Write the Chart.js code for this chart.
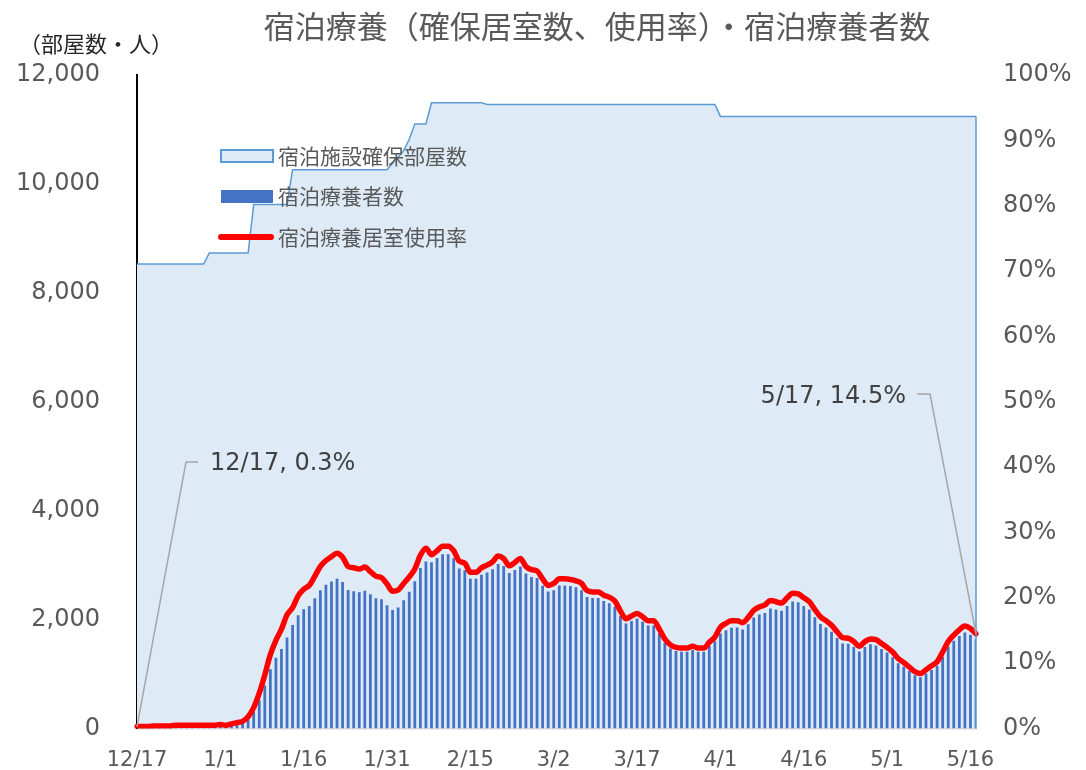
<!DOCTYPE html>
<html lang="ja">
<head>
<meta charset="utf-8">
<title>宿泊療養</title>
<script src="https://cdn.jsdelivr.net/npm/chart.js@4.4.1/dist/chart.umd.min.js"></script>
<style>
body{margin:0;background:#fff;}
#wrap{position:relative;width:1086px;height:770px;}
</style>
</head>
<body>
<div id="wrap"><canvas id="myChart" width="1086" height="770"></canvas></div>
<script>
// 12/17 ～ 5/17 の日付
var meses = [[12,17,31],[1,1,31],[2,1,28],[3,1,31],[4,1,30],[5,1,17]];
var fechas = [];
for (let m = 0; m < meses.length; m++) {
    for (let d = meses[m][1]; d <= meses[m][2]; d++) {
        fechas.push(meses[m][0] + "/" + d);
    }
}

// 宿泊施設確保部屋数
var habitaciones = [
    8530,8530,8530,8530,8530,8530,8530,8530,8530,8530,
    8530,8530,8530,8730,8730,8730,8730,8730,8730,8730,
    8730,9620,9620,9620,9620,9620,9620,9620,10260,10260,
    10260,10260,10260,10260,10260,10260,10260,10260,10260,10260,
    10260,10260,10260,10260,10260,10260,10380,10490,10610,10820,
    11100,11100,11100,11490,11490,11490,11490,11490,11490,11490,
    11490,11490,11490,11460,11460,11460,11460,11460,11460,11460,
    11460,11460,11460,11460,11460,11460,11460,11460,11460,11460,
    11460,11460,11460,11460,11460,11460,11460,11460,11460,11460,
    11460,11460,11460,11460,11460,11460,11460,11460,11460,11460,
    11460,11460,11460,11460,11460,11240,11240,11240,11240,11240,
    11240,11240,11240,11240,11240,11240,11240,11240,11240,11240,
    11240,11240,11240,11240,11240,11240,11240,11240,11240,11240,
    11240,11240,11240,11240,11240,11240,11240,11240,11240,11240,
    11240,11240,11240,11240,11240,11240,11240,11240,11240,11240,
    11240,11240
];

// 宿泊療養者数
var pacientes = [
    25,26,28,30,34,36,38,40,40,42,
    44,45,46,46,48,50,48,58,75,100,
    160,310,520,790,1090,1300,1460,1670,1900,2080,
    2190,2250,2390,2540,2640,2700,2750,2690,2545,2520,
    2500,2530,2465,2390,2375,2265,2175,2220,2355,2510,
    2705,2945,3065,3055,3130,3200,3200,3125,2940,2905,
    2750,2750,2825,2865,2925,3020,2985,2855,2910,2975,
    2845,2780,2765,2620,2515,2540,2625,2625,2615,2595,
    2540,2415,2395,2395,2340,2300,2235,2065,1930,1975,
    2020,1960,1890,1890,1745,1575,1470,1425,1410,1410,
    1440,1410,1410,1515,1600,1745,1805,1850,1855,1820,
    1915,2040,2095,2120,2205,2185,2160,2250,2330,2320,
    2250,2185,2045,1920,1855,1775,1660,1560,1555,1495,
    1415,1495,1545,1525,1460,1395,1310,1200,1135,1055,
    980,940,1010,1075,1150,1315,1500,1610,1700,1765,
    1720,1640
];

// 宿泊療養居室使用率 (%)
var porcentajes = [
    0.3,0.3,0.3,0.4,0.4,0.4,0.4,0.5,0.5,0.5,
    0.5,0.5,0.5,0.5,0.5,0.6,0.5,0.7,0.9,1.1,
    1.8,3.2,5.4,8.2,11.3,13.5,15.2,17.4,18.5,20.3,
    21.3,21.9,23.3,24.8,25.7,26.3,26.8,26.2,24.8,24.6,
    24.4,24.7,24.0,23.3,23.1,22.1,21.0,21.2,22.2,23.2,
    24.4,26.5,27.6,26.6,27.2,27.9,27.9,27.2,25.6,25.3,
    23.9,23.9,24.6,25.0,25.5,26.4,26.0,24.9,25.4,26.0,
    24.8,24.3,24.1,22.9,21.9,22.2,22.9,22.9,22.8,22.6,
    22.2,21.1,20.9,20.9,20.4,20.1,19.5,18.0,16.8,17.2,
    17.6,17.1,16.5,16.5,15.2,13.7,12.8,12.4,12.3,12.3,
    12.6,12.3,12.3,13.2,14.0,15.5,16.1,16.5,16.5,16.2,
    17.0,18.1,18.6,18.9,19.6,19.4,19.2,20.0,20.7,20.6,
    20.0,19.4,18.2,17.1,16.5,15.8,14.8,13.9,13.8,13.3,
    12.6,13.3,13.7,13.6,13.0,12.4,11.7,10.7,10.1,9.4,
    8.7,8.4,9.0,9.6,10.2,11.7,13.3,14.3,15.1,15.7,
    15.3,14.5
];

var etiquetasLeyenda = ["宿泊施設確保部屋数", "宿泊療養者数", "宿泊療養居室使用率"];
var titulo = "宿泊療養（確保居室数、使用率）・宿泊療養者数";
var unidad = "（部屋数・人）";

var fuenteJP = "'Noto Sans CJK JP', 'Noto Sans', sans-serif";
var fuenteNum = "'DejaVu Sans', Verdana, sans-serif";

var extras = {
    id: "extras",
    afterDatasetsDraw: function(chart) {
        var ctx = chart.ctx;
        var x = chart.scales.x, yL = chart.scales.y, yR = chart.scales.y1;
        var ult = fechas.length - 1;
        ctx.save();
        // borde derecho del área
        ctx.strokeStyle = "#5B9BD5";
        ctx.lineWidth = 1.5;
        ctx.beginPath();
        ctx.moveTo(x.getPixelForValue(ult), yL.getPixelForValue(habitaciones[ult]));
        ctx.lineTo(x.getPixelForValue(ult), yL.getPixelForValue(0));
        ctx.stroke();

        // líneas guía de las etiquetas
        ctx.strokeStyle = "#A6A6A6";
        ctx.lineWidth = 1.5;
        ctx.beginPath();
        ctx.moveTo(x.getPixelForValue(0), yR.getPixelForValue(porcentajes[0]));
        ctx.lineTo(186, 462);
        ctx.lineTo(198, 462);
        ctx.stroke();
        ctx.beginPath();
        ctx.moveTo(917, 394);
        ctx.lineTo(930, 394);
        ctx.lineTo(x.getPixelForValue(ult), yR.getPixelForValue(porcentajes[ult]));
        ctx.stroke();

        ctx.fillStyle = "#404040";
        ctx.font = "24px " + fuenteNum;
        ctx.textBaseline = "middle";
        ctx.textAlign = "left";
        ctx.fillText(fechas[0] + ", " + porcentajes[0].toFixed(1) + "%", 210, 464);
        ctx.textAlign = "right";
        ctx.fillText(fechas[ult] + ", " + porcentajes[ult].toFixed(1) + "%", 906, 397);
        ctx.restore();
    },
    afterDraw: function(chart) {
        var ctx = chart.ctx;
        ctx.save();
        ctx.textBaseline = "middle";
        ctx.fillStyle = "#595959";
        ctx.font = "31px " + fuenteJP;
        ctx.textAlign = "center";
        ctx.fillText(titulo, 597, 26);

        ctx.fillStyle = "#262626";
        ctx.font = "22px " + fuenteJP;
        ctx.textAlign = "left";
        ctx.fillText(unidad, 19, 44);

        // leyenda
        var ds = chart.data.datasets;
        ctx.fillStyle = ds[0].backgroundColor;
        ctx.fillRect(221, 150, 52, 12);
        ctx.strokeStyle = ds[0].borderColor;
        ctx.lineWidth = 2;
        ctx.strokeRect(221, 150, 52, 12);
        ctx.fillStyle = ds[1].backgroundColor;
        ctx.fillRect(221, 190, 52, 13);
        ctx.strokeStyle = ds[2].borderColor;
        ctx.lineWidth = 6;
        ctx.lineCap = "round";
        ctx.beginPath();
        ctx.moveTo(221, 237);
        ctx.lineTo(271, 237);
        ctx.stroke();

        ctx.fillStyle = "#595959";
        ctx.font = "21px " + fuenteJP;
        ctx.fillText(etiquetasLeyenda[0], 278, 156);
        ctx.fillText(etiquetasLeyenda[1], 278, 196);
        ctx.fillText(etiquetasLeyenda[2], 278, 237);
        ctx.restore();
    }
};

// el padding de los ticks no debe empujar el área del gráfico
function sinRelleno(scale, ancho) {
    scale.width = ancho;
    scale.paddingTop = 0;
    scale.paddingBottom = 0;
}

var ctx = document.getElementById("myChart").getContext("2d");
var chart = new Chart(ctx, {
    type: "bar",
    data: {
        labels: fechas,
        datasets: [
            {
                type: "line",
                label: etiquetasLeyenda[0],
                data: habitaciones,
                yAxisID: "y",
                backgroundColor: "#DEEBF7",
                borderColor: "#5B9BD5",
                borderWidth: 1.5,
                fill: "origin",
                pointRadius: 0,
                tension: 0,
                order: 3
            },
            {
                label: etiquetasLeyenda[1],
                data: pacientes,
                yAxisID: "y",
                backgroundColor: "#4472C4",
                barPercentage: 0.5,
                categoryPercentage: 1,
                order: 2
            },
            {
                type: "line",
                label: etiquetasLeyenda[2],
                data: porcentajes,
                yAxisID: "y1",
                borderColor: "#FF0000",
                borderWidth: 5.5,
                borderCapStyle: "round",
                borderJoinStyle: "round",
                pointRadius: 0,
                fill: false,
                cubicInterpolationMode: "monotone",
                order: 1
            }
        ]
    },
    options: {
        responsive: false,
        animation: false,
        devicePixelRatio: 1,
        layout: { padding: { top: 75, left: 0, right: 0, bottom: 0 } },
        plugins: {
            legend: { display: false },
            title: { display: false },
            tooltip: { enabled: false }
        },
        scales: {
            x: {
                offset: false,
                grid: { display: false, drawTicks: false },
                border: { display: true, color: "#D9D9D9", width: 1.5 },
                ticks: {
                    autoSkip: false,
                    maxRotation: 0,
                    minRotation: 0,
                    padding: 19,
                    color: "#595959",
                    font: { family: fuenteNum, size: 21 },
                    callback: function(val, idx) {
                        return idx % 15 === 0 ? this.getLabelForValue(val) : "";
                    }
                },
                afterFit: function(scale) { scale.height = 41.5; }
            },
            y: {
                position: "left",
                min: 0,
                max: 12000,
                grid: { display: false, drawTicks: false },
                border: { display: true, color: "#000000", width: 2 },
                ticks: {
                    stepSize: 2000,
                    padding: 37,
                    color: "#595959",
                    font: { family: fuenteNum, size: 24 },
                    callback: function(v) { return v.toLocaleString("en-US"); }
                },
                afterFit: function(scale) { sinRelleno(scale, 137); }
            },
            y1: {
                position: "right",
                min: 0,
                max: 100,
                grid: { display: false, drawTicks: false },
                border: { display: false },
                ticks: {
                    stepSize: 10,
                    padding: 27,
                    color: "#595959",
                    font: { family: fuenteNum, size: 24 },
                    callback: function(v) { return v + "%"; }
                },
                afterFit: function(scale) { sinRelleno(scale, 110); }
            }
        }
    },
    plugins: [extras]
});
</script>
</body>
</html>
